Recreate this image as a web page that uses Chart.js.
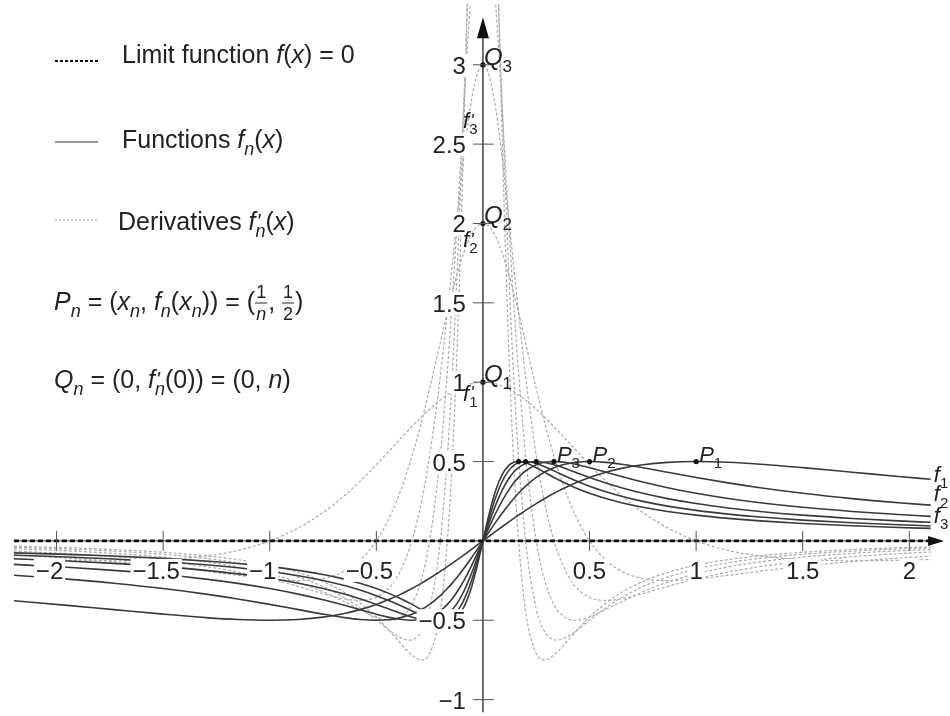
<!DOCTYPE html>
<html lang="en">
<head>
  <meta charset="UTF-8">
  <title>Sequence f_n(x) = nx / (1 + n²x²)</title>
  <style>
    html, body { margin: 0; padding: 0; background: #fff; }
    #wrap { width: 950px; height: 716px; position: relative; }
  </style>
</head>
<body>
  <div id="wrap"><canvas id="plot"></canvas></div>

  <script src="https://cdn.jsdelivr.net/npm/chart.js"></script>
  <script>
    // sample positions along x (denser near the origin where the curves bend)
    const xGrid = [-2.2, -1.95, -1.732, -1.5, -1.3, -1.15, -1, -0.866, -0.75, -0.65, -0.577, -0.5, -0.433, -0.39, -0.346, -0.333, -0.29, -0.25, -0.2, -0.167, -0.145, -0.12, -0.09, -0.06, -0.03,
      0,
      0.03, 0.06, 0.09, 0.12, 0.145, 0.167, 0.2, 0.25, 0.29, 0.333, 0.346, 0.39, 0.433, 0.5, 0.577, 0.65, 0.75, 0.866, 1, 1.15, 1.3, 1.5, 1.732, 1.95, 2.1];

    // functions f_n(x)
    const f1 = [-0.3767, -0.4060, -0.4330, -0.4615, -0.4833, -0.4952, -0.5, -0.4949, -0.48, -0.4569, -0.4329, -0.4, -0.3646, -0.3385, -0.3090, -0.3, -0.2675, -0.2353, -0.1923, -0.1622, -0.1420, -0.1183, -0.0893, -0.0598, -0.0300,
      0,
      0.0300, 0.0598, 0.0893, 0.1183, 0.1420, 0.1622, 0.1923, 0.2353, 0.2675, 0.3, 0.3090, 0.3385, 0.3646, 0.4, 0.4329, 0.4569, 0.48, 0.4949, 0.5, 0.4952, 0.4833, 0.4615, 0.4330, 0.4060, 0.3882];
    const f2 = [-0.2161, -0.2406, -0.2665, -0.3, -0.3351, -0.3657, -0.4, -0.4330, -0.4615, -0.4833, -0.4949, -0.5, -0.4949, -0.4850, -0.4679, -0.4615, -0.4340, -0.4, -0.3448, -0.3, -0.2675, -0.2269, -0.1744, -0.1183, -0.0598,
      0,
      0.0598, 0.1183, 0.1744, 0.2269, 0.2675, 0.3, 0.3448, 0.4, 0.4340, 0.4615, 0.4679, 0.4850, 0.4949, 0.5, 0.4949, 0.4833, 0.4615, 0.4330, 0.4, 0.3657, 0.3351, 0.3, 0.2665, 0.2406, 0.2253];
    const f3 = [-0.1481, -0.1661, -0.1856, -0.2118, -0.2406, -0.2674, -0.3, -0.3353, -0.3711, -0.4060, -0.4331, -0.4615, -0.4834, -0.4939, -0.4997, -0.5, -0.4952, -0.48, -0.4412, -0.4, -0.3658, -0.3187, -0.2517, -0.1744, -0.0893,
      0,
      0.0893, 0.1744, 0.2517, 0.3187, 0.3658, 0.4, 0.4412, 0.48, 0.4952, 0.5, 0.4997, 0.4939, 0.4834, 0.4615, 0.4331, 0.4060, 0.3711, 0.3353, 0.3, 0.2674, 0.2406, 0.2118, 0.1856, 0.1661, 0.1548];
    const f4 = [-0.1122, -0.1261, -0.1414, -0.1622, -0.1855, -0.2076, -0.2353, -0.2665, -0.3, -0.3351, -0.3648, -0.4, -0.4330, -0.4543, -0.4747, -0.48, -0.4945, -0.5, -0.4878, -0.4615, -0.4340, -0.3901, -0.3187, -0.2269, -0.1183,
      0,
      0.1183, 0.2269, 0.3187, 0.3901, 0.4340, 0.4615, 0.4878, 0.5, 0.4945, 0.48, 0.4747, 0.4543, 0.4330, 0.4, 0.3648, 0.3351, 0.3, 0.2665, 0.2353, 0.2076, 0.1855, 0.1622, 0.1414, 0.1261, 0.1174];
    const f5 = [-0.0902, -0.1015, -0.1140, -0.1310, -0.1503, -0.1688, -0.1923, -0.2193, -0.2490, -0.2811, -0.3094, -0.3448, -0.3807, -0.4060, -0.4333, -0.4412, -0.4674, -0.4878, -0.5, -0.4918, -0.4752, -0.4412, -0.3742, -0.2752, -0.1467,
      0,
      0.1467, 0.2752, 0.3742, 0.4412, 0.4752, 0.4918, 0.5, 0.4878, 0.4674, 0.4412, 0.4333, 0.4060, 0.3807, 0.3448, 0.3094, 0.2811, 0.2490, 0.2193, 0.1923, 0.1688, 0.1503, 0.1310, 0.1140, 0.1015, 0.0944];
    const f6 = [-0.0753, -0.0849, -0.0954, -0.1098, -0.1261, -0.1420, -0.1622, -0.1856, -0.2118, -0.2406, -0.2666, -0.3, -0.3353, -0.3614, -0.3910, -0.4, -0.4320, -0.4615, -0.4918, -0.5, -0.4952, -0.4742, -0.4181, -0.3187, -0.1744,
      0,
      0.1744, 0.3187, 0.4181, 0.4742, 0.4952, 0.5, 0.4918, 0.4615, 0.4320, 0.4, 0.3910, 0.3614, 0.3353, 0.3, 0.2666, 0.2406, 0.2118, 0.1856, 0.1622, 0.1420, 0.1261, 0.1098, 0.0954, 0.0849, 0.0789];

    // derivatives f'_n(x)
    const d1 = [-0.113, -0.122, -0.125, -0.118, -0.095, -0.060, 0, 0.082, 0.179, 0.285, 0.375, 0.48, 0.576, 0.639, 0.702, 0.72, 0.779, 0.830, 0.888, 0.920, 0.939, 0.958, 0.976, 0.989, 0.997,
      1,
      0.997, 0.989, 0.976, 0.958, 0.939, 0.920, 0.888, 0.830, 0.779, 0.72, 0.702, 0.639, 0.576, 0.48, 0.375, 0.285, 0.179, 0.082, 0, -0.060, -0.095, -0.118, -0.125, -0.122, -0.117];
    const d2 = [-0.089, -0.108, -0.130, -0.16, -0.191, -0.217, -0.24, -0.25, -0.237, -0.191, -0.122, 0, 0.163, 0.303, 0.477, 0.533, 0.743, 0.96, 1.249, 1.44, 1.559, 1.685, 1.816, 1.916, 1.979,
      2,
      1.979, 1.916, 1.816, 1.685, 1.559, 1.44, 1.249, 0.96, 0.743, 0.533, 0.477, 0.303, 0.163, 0, -0.122, -0.191, -0.237, -0.25, -0.24, -0.217, -0.191, -0.16, -0.130, -0.108, -0.096];
    const d3 = [-0.0643, -0.0803, -0.0995, -0.128, -0.162, -0.196, -0.24, -0.287, -0.332, -0.365, -0.375, -0.355, -0.286, -0.197, -0.054, 0, 0.236, 0.538, 1.038, 1.44, 1.720, 2.046, 2.416, 2.723, 2.928,
      3,
      2.928, 2.723, 2.416, 2.046, 1.720, 1.44, 1.038, 0.538, 0.236, 0, -0.054, -0.197, -0.286, -0.355, -0.375, -0.365, -0.332, -0.287, -0.24, -0.196, -0.162, -0.128, -0.0995, -0.0803, -0.0701];
    const d4 = [-0.0497, -0.0626, -0.0783, -0.102, -0.132, -0.164, -0.208, -0.260, -0.32, -0.383, -0.432, -0.48, -0.5, -0.486, -0.431, -0.403, -0.251, 0, 0.535, 1.065, 1.486, 2.033, 2.729, 3.370, 3.831,
      4,
      3.831, 3.370, 2.729, 2.033, 1.486, 1.065, 0.535, 0, -0.251, -0.403, -0.431, -0.486, -0.5, -0.48, -0.432, -0.383, -0.32, -0.260, -0.208, -0.164, -0.132, -0.102, -0.0783, -0.0626, -0.0543];
    const d5 = [-0.0403, -0.0510, -0.0641, -0.0843, -0.110, -0.138, -0.178, -0.228, -0.288, -0.358, -0.421, -0.499, -0.570, -0.608, -0.625, -0.623, -0.573, -0.428, 0, 0.532, 1.019, 1.730, 2.758, 3.830, 4.675,
      5,
      4.675, 3.830, 2.758, 1.730, 1.019, 0.532, 0, -0.428, -0.573, -0.623, -0.625, -0.608, -0.570, -0.499, -0.421, -0.358, -0.288, -0.228, -0.178, -0.138, -0.110, -0.0843, -0.0641, -0.0510, -0.0442];
    const d6 = [-0.0338, -0.0429, -0.0541, -0.0714, -0.0939, -0.118, -0.153, -0.199, -0.256, -0.324, -0.391, -0.48, -0.574, -0.640, -0.704, -0.72, -0.750, -0.710, -0.443, 0, 0.473, 1.253, 2.548, 4.093, 5.447,
      6,
      5.447, 4.093, 2.548, 1.253, 0.473, 0, -0.443, -0.710, -0.750, -0.72, -0.704, -0.640, -0.574, -0.48, -0.391, -0.324, -0.256, -0.199, -0.153, -0.118, -0.0939, -0.0714, -0.0541, -0.0429, -0.0371];

    // limit function f(x) = 0
    const limitX = [-2.2, 2.13];
    const limitY = [0, 0];

    // maxima P_n = (1/n, 1/2) and Q_n = (0, n)
    const pX = [1, 0.5, 0.333, 0.25, 0.2, 0.167];
    const pY = [0.5, 0.5, 0.5, 0.5, 0.5, 0.5];
    const qX = [0, 0, 0];
    const qY = [1, 2, 3];

    const xTicks = [-2, -1.5, -1, -0.5, 0.5, 1, 1.5, 2];
    const xTickText = ['−2', '−1.5', '−1', '−0.5', '0.5', '1', '1.5', '2'];
    const yTicks = [-1, -0.5, 0.5, 1, 1.5, 2, 2.5, 3];
    const yTickText = ['−1', '−0.5', '0.5', '1', '1.5', '2', '2.5', '3'];

    // where the f'_n and f_n names sit
    const dLabelX = -0.093;
    const dLabelY = [0.88, 1.85, 2.6];
    const fLabelX = 2.115;
    const fLabelY = [0.374, 0.249, 0.112];

    const FONT = '"Liberation Sans", Arial, Helvetica, sans-serif';

    const pts = (xs, ys) => xs.map((x, i) => ({ x: x, y: ys[i] }));

    // draws a run of [text, kind] pieces: n normal, i italic, s italic subscript,
    // d digit subscript, p prime (no advance), fr stacked fraction "a|b"
    function rich(ctx, x, y, runs, size) {
      let cx = x;
      ctx.textAlign = 'left';
      ctx.textBaseline = 'alphabetic';
      for (const [text, kind] of runs) {
        if (kind === 'fr') {
          const [num, den] = text.split('|');
          const fs = Math.round(size * 0.7);
          ctx.font = fs + 'px ' + FONT;
          const w = Math.max(ctx.measureText(num).width, ctx.measureText(den).width) + 2;
          ctx.textAlign = 'center';
          ctx.fillText(num, cx + w / 2, y - size * 0.48);
          ctx.font = (isNaN(den) ? 'italic ' : '') + fs + 'px ' + FONT;
          ctx.fillText(den, cx + w / 2, y + size * 0.4);
          ctx.fillRect(cx, y - size * 0.3, w, 1);
          ctx.textAlign = 'left';
          cx += w + 1;
          continue;
        }
        let fs = size, dy = 0, ital = false;
        if (kind === 'i') ital = true;
        if (kind === 's') { fs = Math.round(size * 0.7); dy = size * 0.28; ital = true; }
        if (kind === 'd') { fs = Math.round(size * 0.7); dy = size * 0.28; }
        if (kind === 'p') { fs = Math.round(size * 0.8); dy = -size * 0.08; ital = true; }
        ctx.font = (ital ? 'italic ' : '') + fs + 'px ' + FONT;
        ctx.fillText(text, kind === 'p' ? cx + 1 : cx, y + dy);
        if (kind !== 'p') cx += ctx.measureText(text).width;
      }
      return cx;
    }

    const decor = {
      id: 'decor',
      beforeDatasetsDraw(chart) {
        const { ctx } = chart;
        const xs = chart.scales.x, ys = chart.scales.y;
        const x0 = xs.getPixelForValue(0), y0 = ys.getPixelForValue(0);
        ctx.save();
        ctx.strokeStyle = '#555';
        ctx.lineWidth = 1.2;
        ctx.beginPath();
        ctx.moveTo(xs.getPixelForValue(-2.19), y0);
        ctx.lineTo(xs.getPixelForValue(2.14), y0);
        ctx.stroke();
        ctx.strokeStyle = '#333';
        ctx.lineWidth = 1.4;
        ctx.beginPath();
        ctx.moveTo(x0, ys.getPixelForValue(-1.08));
        ctx.lineTo(x0, ys.getPixelForValue(3.2));
        ctx.stroke();
        ctx.restore();
      },
      afterDatasetsDraw(chart) {
        const { ctx } = chart;
        const xs = chart.scales.x, ys = chart.scales.y;
        const x0 = xs.getPixelForValue(0), y0 = ys.getPixelForValue(0);
        ctx.save();

        // tick marks
        ctx.strokeStyle = '#555';
        ctx.lineWidth = 1;
        ctx.beginPath();
        xTicks.forEach(v => {
          const px = xs.getPixelForValue(v);
          ctx.moveTo(px, y0 - 10); ctx.lineTo(px, y0 + 10);
        });
        yTicks.forEach(v => {
          const py = ys.getPixelForValue(v);
          ctx.moveTo(x0 - 10, py); ctx.lineTo(x0 + 11, py);
        });
        ctx.stroke();

        // arrow heads
        ctx.fillStyle = '#111';
        const yTip = ys.getPixelForValue(3.3);
        ctx.beginPath();
        ctx.moveTo(x0, yTip); ctx.lineTo(x0 - 6, yTip + 21); ctx.lineTo(x0 + 6, yTip + 21);
        ctx.closePath(); ctx.fill();
        const xTip = xs.getPixelForValue(2.163);
        ctx.beginPath();
        ctx.moveTo(xTip, y0); ctx.lineTo(xTip - 16, y0 - 5); ctx.lineTo(xTip - 16, y0 + 5);
        ctx.closePath(); ctx.fill();

        // tick labels on white boxes
        ctx.font = '24px ' + FONT;
        ctx.textBaseline = 'alphabetic';
        ctx.textAlign = 'left';
        xTicks.forEach((v, i) => {
          const txt = xTickText[i];
          const neg = txt.startsWith('−');
          const dw = ctx.measureText(neg ? txt.slice(1) : txt).width;
          const mw = neg ? ctx.measureText('−').width : 0;
          const left = xs.getPixelForValue(v) - dw / 2 - mw;
          const base = y0 + 38;
          ctx.fillStyle = '#fff';
          ctx.fillRect(left - 2, base - 20, dw + mw + 4, 23);
          ctx.fillStyle = '#222';
          ctx.fillText(txt, left, base);
        });
        yTicks.forEach((v, i) => {
          const txt = yTickText[i];
          const w = ctx.measureText(txt).width;
          const right = x0 - 17;
          const base = ys.getPixelForValue(v) + 9;
          ctx.fillStyle = '#fff';
          ctx.fillRect(right - w - 2, base - 20, w + 4, 23);
          ctx.fillStyle = '#222';
          ctx.fillText(txt, right - w, base);
        });

        // point names
        ctx.fillStyle = '#222';
        qY.forEach((v, i) => {
          rich(ctx, xs.getPixelForValue(qX[i]) + 1, ys.getPixelForValue(v), [['Q', 'i'], [String(i + 1), 'd']], 24);
        });
        [0, 1, 2].forEach(i => {
          rich(ctx, xs.getPixelForValue(pX[i]) + 3, ys.getPixelForValue(pY[i]), [['P', 'i'], [String(i + 1), 'd']], 22);
        });
        dLabelY.forEach((v, i) => {
          rich(ctx, xs.getPixelForValue(dLabelX), ys.getPixelForValue(v), [['f', 'i'], ["'", 'p'], [String(i + 1), 'd']], 22);
        });
        fLabelY.forEach((v, i) => {
          rich(ctx, xs.getPixelForValue(fLabelX), ys.getPixelForValue(v), [['f', 'i'], [String(i + 1), 'd']], 22);
        });
        ctx.restore();
      },
      afterDraw(chart) {
        const { ctx } = chart;
        ctx.save();
        // legend swatches
        ctx.strokeStyle = '#111'; ctx.lineWidth = 2; ctx.setLineDash([3, 2]);
        ctx.beginPath(); ctx.moveTo(55, 61); ctx.lineTo(98, 61); ctx.stroke();
        ctx.strokeStyle = '#777'; ctx.lineWidth = 1.5; ctx.setLineDash([]);
        ctx.beginPath(); ctx.moveTo(55, 142); ctx.lineTo(98, 142); ctx.stroke();
        ctx.strokeStyle = '#bbb'; ctx.lineWidth = 1.5; ctx.setLineDash([2, 2]);
        ctx.beginPath(); ctx.moveTo(55, 220); ctx.lineTo(98, 220); ctx.stroke();
        ctx.setLineDash([]);

        ctx.fillStyle = '#222';
        rich(ctx, 122, 63, [['Limit function ', 'n'], ['f', 'i'], ['(', 'n'], ['x', 'i'], [') = 0', 'n']], 25);
        rich(ctx, 122, 148, [['Functions ', 'n'], ['f', 'i'], ['n', 's'], ['(', 'n'], ['x', 'i'], [')', 'n']], 25);
        rich(ctx, 118, 230, [['Derivatives ', 'n'], ['f', 'i'], ["'", 'p'], ['n', 's'], ['(', 'n'], ['x', 'i'], [')', 'n']], 25);
        rich(ctx, 54, 310, [['P', 'i'], ['n', 's'], [' = (', 'n'], ['x', 'i'], ['n', 's'], [', ', 'n'], ['f', 'i'], ['n', 's'],
          ['(', 'n'], ['x', 'i'], ['n', 's'], ['))', 'n'], [' = (', 'n'], ['1|n', 'fr'], [', ', 'n'], ['1|2', 'fr'], [')', 'n']], 25);
        rich(ctx, 54, 388, [['Q', 'i'], ['n', 's'], [' = (0, ', 'n'], ['f', 'i'], ["'", 'p'], ['n', 's'], ['(0)) = (0, ', 'n'], ['n', 'i'], [')', 'n']], 25);
        ctx.restore();
      }
    };

    const fnLine = arr => ({
      data: pts(xGrid, arr),
      borderColor: '#3a3a3a',
      borderWidth: 1.6,
      cubicInterpolationMode: 'monotone'
    });
    const dLine = arr => ({
      data: pts(xGrid, arr),
      borderColor: '#ababab',
      borderWidth: 1.2,
      borderDash: [3, 2],
      cubicInterpolationMode: 'monotone'
    });

    new Chart(document.getElementById('plot'), {
      type: 'line',
      data: {
        datasets: [
          { data: pts(limitX, limitY), borderColor: '#111', borderWidth: 2.6, borderDash: [5, 3] },
          { data: pts(pX, pY), showLine: false, pointRadius: 2.6, pointBackgroundColor: '#111', pointBorderWidth: 0 },
          { data: pts(qX, qY), showLine: false, pointRadius: 2.6, pointBackgroundColor: '#111', pointBorderWidth: 0 },
          fnLine(f1), fnLine(f2), fnLine(f3), fnLine(f4), fnLine(f5), fnLine(f6),
          dLine(d1), dLine(d2), dLine(d3), dLine(d4), dLine(d5), dLine(d6)
        ]
      },
      options: {
        responsive: true,
        maintainAspectRatio: false,
        animation: false,
        events: [],
        layout: { padding: 0 },
        elements: { point: { radius: 0 } },
        plugins: { legend: { display: false }, tooltip: { enabled: false } },
        scales: {
          x: { type: 'linear', min: -2.2465, max: 2.172, bounds: 'data', display: false },
          y: { type: 'linear', min: -1.078, max: 3.383, bounds: 'data', display: false }
        }
      },
      plugins: [decor]
    });
  </script>
</body>
</html>
